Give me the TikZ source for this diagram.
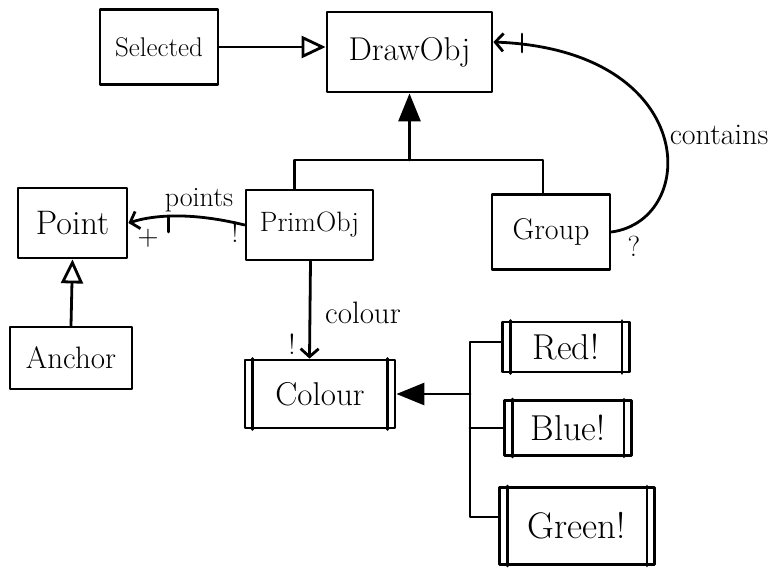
\documentclass[tikz,border=0pt]{standalone}
\usepackage{fontspec}
\usetikzlibrary{arrows.meta,calc}
\begin{document}
\begin{tikzpicture}[x=1pt,y=-1pt,
  line width=2.8pt, line join=round, line cap=round,
  cls/.style={draw, inner sep=0pt, font=\fontsize{32}{36}\selectfont},
  lbl/.style={font=\fontsize{29}{32}\selectfont, inner sep=1pt},
  gen/.style={-{Triangle[open,length=24pt,width=22pt,line width=2.8pt]}},
  genfill/.style={-{Triangle[length=28pt,width=22pt]}},
  assoc/.style={-{Straight Barb[length=8pt,width=18pt,line width=2.8pt]}}]
\useasboundingbox (0,0) rectangle (772,573);

% classes
\node[cls, minimum width=118pt, minimum height=75pt, font=\fontsize{27}{30}\selectfont] (sel) at (159,47) {Selected};
\node[cls, minimum width=165pt, minimum height=80pt, font=\fontsize{33}{36}\selectfont] (drw) at (409.5,52) {DrawObj};
\node[cls, minimum width=109pt, minimum height=70pt, font=\fontsize{34}{38}\selectfont] (point) at (72.5,223) {Point};
\node[cls, minimum width=127pt, minimum height=70pt, font=\fontsize{28}{32}\selectfont] (prim) at (309.5,225) {PrimObj};
\node[cls, minimum width=118pt, minimum height=75pt, font=\fontsize{30}{34}\selectfont] (group) at (551,232) {Group};
\node[cls, minimum width=122pt, minimum height=62pt, font=\fontsize{31}{34}\selectfont] (anchor) at (71,358) {Anchor};
\node[cls, minimum width=150pt, minimum height=68pt, font=\fontsize{33}{36}\selectfont] (colour) at (320,394) {Colour};
\node[cls, minimum width=127pt, minimum height=50pt, font=\fontsize{36}{40}\selectfont] (red) at (566,347) {Red!};
\node[cls, minimum width=127pt, minimum height=55pt, font=\fontsize{36}{40}\selectfont] (blue) at (568,428) {Blue!};
\node[cls, minimum width=155pt, minimum height=77pt, font=\fontsize{37}{40}\selectfont] (green) at (577,526) {Green!};

% side bars of the value classes
\foreach \n in {colour,red,blue,green}{
  \draw ($(\n.north west)+(9,0)$) -- ($(\n.south west)+(9,0)$);
  \draw ($(\n.north east)+(-9,0)$) -- ($(\n.south east)+(-9,0)$);
}

% Selected specialises DrawObj
\draw[gen] (sel.east) -- (sel.east -| drw.west);

% PrimObj and Group specialise DrawObj
\coordinate (bar) at (0,160);
\draw ([xshift=-15pt]prim.north) |- (bar -| drw.south) -| ([xshift=-8pt]group.north);
\draw[genfill] (bar -| drw.south) -- (drw.south);

% Anchor specialises Point
\draw[gen] (anchor.north) -- (point.south);

% points association
\draw[assoc] (prim.west) .. controls (200,214) and (160,213) .. (point.east);
\draw ($(point.east)+(40,-6)$) -- ++(0,15);
\node[lbl, anchor=south, font=\fontsize{28}{30}\selectfont] (ptslbl) at (199,214) {points};
\node[lbl] (plus) at (148,238) {+};
\node[lbl] (excl1) at (235,232) {!};

% colour association
\draw[assoc] ([xshift=1pt]prim.south) -- (prim.south |- colour.north);
\node[lbl, font=\fontsize{31}{34}\selectfont] (collbl) at (363,313) {colour};
\node[lbl] (excl2) at (292,344) {!};

% Red, Blue and Green specialise Colour
\coordinate (trunk) at (470,0);
\draw ([yshift=5pt]red.west) -- ([yshift=5pt]red.west -| trunk) -- ([yshift=9pt]green.west -| trunk) -- ([yshift=9pt]green.west);
\draw (blue.west) -- (blue.west -| trunk);
\draw[genfill] (colour.east -| trunk) -- (colour.east);

% contains association
\draw[assoc] (group.east) .. controls (700,220) and (700,50) .. ([yshift=10pt]drw.east);
\draw (522,34) -- (522,52);
\node[lbl, font=\fontsize{30}{32}\selectfont] (contlbl) at (719,135) {contains};
\node[lbl] (quest) at (634,246) {?};
\end{tikzpicture}
\end{document}
